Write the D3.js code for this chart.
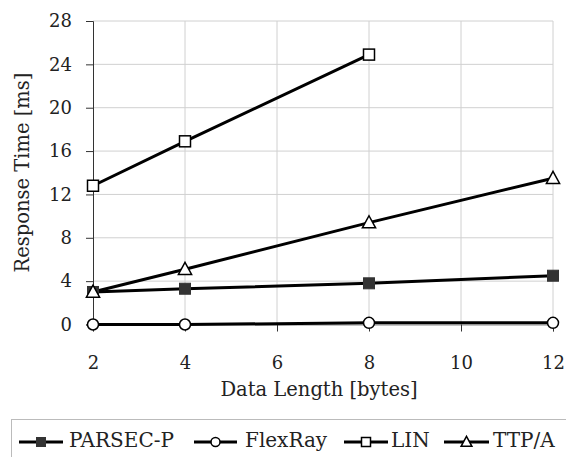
<!DOCTYPE html>
<html><head><meta charset="utf-8">
<script src="https://cdn.jsdelivr.net/npm/d3@7"></script>
<style>body{margin:0;background:#fff}svg{display:block}text{font-family:"DejaVu Serif",serif;fill:#222}</style>
</head><body><svg id="c" width="566" height="457"></svg>
<script>
const xValues = [2, 4, 8, 12];
const seriesNames = ["PARSEC-P", "FlexRay", "LIN", "TTP/A"];
const parsecP = [3.0, 3.3, 3.8, 4.5];
const flexRay = [0.0, 0.0, 0.15, 0.15];
const lin = [12.8, 16.9, 24.9, null];
const ttpA = [3.0, 5.1, 9.4, 13.5];
const xTicks = [2, 4, 6, 8, 10, 12];
const yTicks = [0, 4, 8, 12, 16, 20, 24, 28];
const markers = ["filledSquare", "circle", "square", "triangle"];

const svg = d3.select("#c");
const x = d3.scaleLinear().domain([2, 12]).range([93, 553]);
const y = d3.scaleLinear().domain([0, 28]).range([324.5, 21]);

// gridlines
svg.append("g").selectAll("line.h").data(yTicks.filter(d => d > 0)).join("line")
  .attr("x1", x(2)).attr("x2", x(12)).attr("y1", d => y(d)).attr("y2", d => y(d))
  .attr("stroke", "#d0d0d0").attr("stroke-width", 1);
svg.append("g").selectAll("line.v").data(xTicks.filter(d => d > 2)).join("line")
  .attr("x1", d => x(d)).attr("x2", d => x(d)).attr("y1", y(28)).attr("y2", y(0))
  .attr("stroke", "#d0d0d0").attr("stroke-width", 1);

// y axis
const ya = svg.append("g").attr("transform", `translate(${x(2)},0)`)
  .call(d3.axisLeft(y).tickValues(yTicks).tickSize(7).tickPadding(14));
ya.select(".domain").attr("stroke", "#333");
ya.selectAll(".tick line").attr("stroke", "#333");
ya.selectAll("text").attr("font-size", 18).attr("font-family", "DejaVu Serif").attr("fill", "#222");

// x axis
const xa = svg.append("g").attr("transform", `translate(0,${y(0)})`)
  .call(d3.axisBottom(x).tickValues(xTicks).tickSize(7).tickPadding(0));
xa.select(".domain").attr("stroke", "#888");
xa.selectAll(".tick line").attr("stroke", "#333");
xa.selectAll("text").attr("font-size", 18).attr("font-family", "DejaVu Serif").attr("fill", "#222")
  .attr("dy", null).attr("y", 44.5);

svg.append("text").attr("x", 319).attr("y", 396).attr("text-anchor", "middle")
  .attr("font-size", 19.5).text("Data Length [bytes]");
svg.append("text").attr("transform", "translate(29,172.5) rotate(-90)").attr("text-anchor", "middle")
  .attr("font-size", 19.5).text("Response Time [ms]");

const allSeries = [parsecP, flexRay, lin, ttpA];
const line = d3.line().defined(d => d[1] != null).x(d => x(d[0])).y(d => y(d[1]));

function drawMarker(g, type, cx, cy, s) {
  const h = s / 2;
  if (type === "filledSquare") {
    g.append("rect").attr("x", cx - h).attr("y", cy - h).attr("width", s).attr("height", s)
      .attr("fill", "#333").attr("stroke", "#333").attr("stroke-width", 1);
  } else if (type === "square") {
    g.append("rect").attr("x", cx - h).attr("y", cy - h).attr("width", s).attr("height", s)
      .attr("fill", "#fff").attr("stroke", "#000").attr("stroke-width", 1.5);
  } else if (type === "circle") {
    g.append("circle").attr("cx", cx).attr("cy", cy).attr("r", h)
      .attr("fill", "#fff").attr("stroke", "#000").attr("stroke-width", 1.5);
  } else {
    g.append("path").attr("d", `M${cx},${cy - h * 1.25}L${cx + h * 1.2},${cy + h * 0.95}L${cx - h * 1.2},${cy + h * 0.95}Z`)
      .attr("fill", "#fff").attr("stroke", "#000").attr("stroke-width", 1.5);
  }
}

allSeries.forEach((vals, i) => {
  const pts = xValues.map((xv, j) => [xv, vals[j]]);
  svg.append("path").attr("d", line(pts)).attr("fill", "none")
    .attr("stroke", "#000").attr("stroke-width", 3);
});
allSeries.forEach((vals, i) => {
  const g = svg.append("g");
  xValues.forEach((xv, j) => {
    if (vals[j] != null) drawMarker(g, markers[i], x(xv), y(vals[j]), 11);
  });
});

// legend
svg.append("rect").attr("x", 11.5).attr("y", 419.5).attr("width", 560).attr("height", 50)
  .attr("fill", "none").attr("stroke", "#bbb").attr("stroke-width", 1);
const legX = [[19, 63, 69], [194, 237, 245], [344, 388, 391], [444, 489, 493]];
seriesNames.forEach((name, i) => {
  const [x1, x2, tx] = legX[i];
  const g = svg.append("g");
  g.append("line").attr("x1", x1).attr("x2", x2).attr("y1", 442).attr("y2", 442)
    .attr("stroke", "#000").attr("stroke-width", 3);
  drawMarker(g, markers[i], (x1 + x2) / 2, 442, 9);
  g.append("text").attr("x", tx).attr("y", 447).attr("font-size", 20).text(name);
});
</script></body></html>
